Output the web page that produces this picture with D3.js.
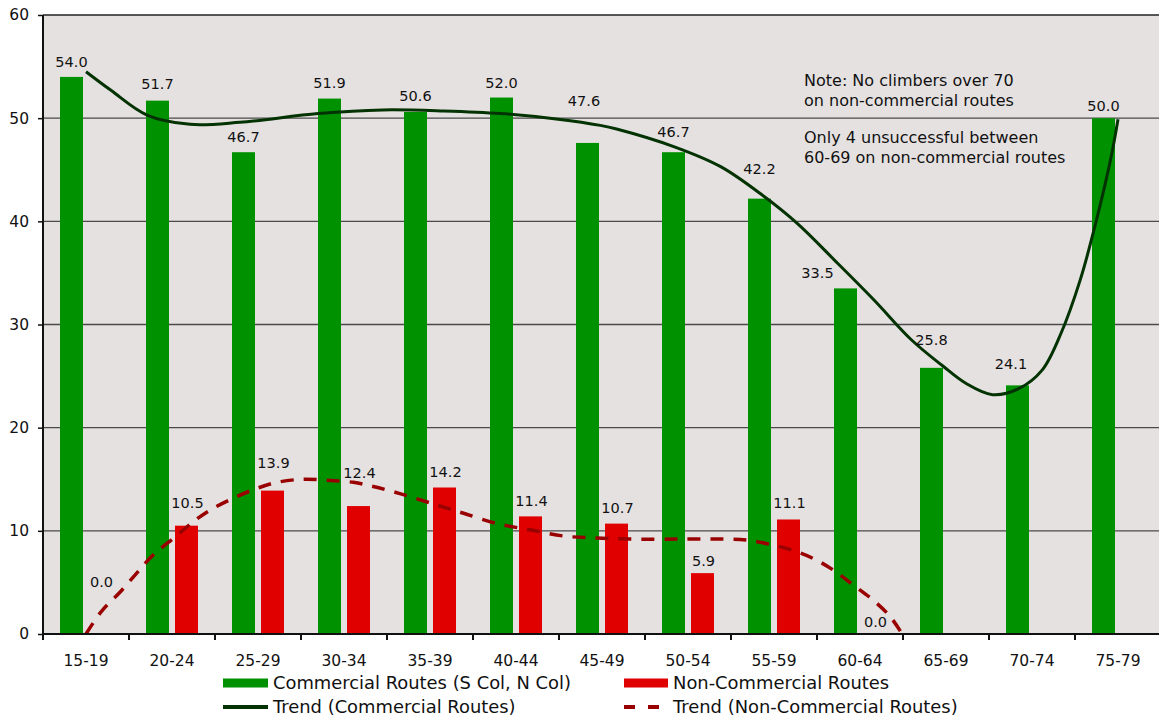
<!DOCTYPE html>
<html><head><meta charset="utf-8">
<script src="https://cdn.jsdelivr.net/npm/d3@7"></script>
<style>body{margin:0;background:#fff}svg{display:block}text{font-family:"DejaVu Sans",Verdana,sans-serif;fill:#111}</style>
</head><body>
<svg id="chart" width="1159" height="719"></svg>
<script>
// ---- data ----
const categories = ["15-19","20-24","25-29","30-34","35-39","40-44","45-49","50-54","55-59","60-64","65-69","70-74","75-79"];
const commercial = [54.0,51.7,46.7,51.9,50.6,52.0,47.6,46.7,42.2,33.5,25.8,24.1,50.0];
const nonCommercial = [0.0,10.5,13.9,12.4,14.2,11.4,10.7,5.9,11.1,0.0,null,null,null];
const yTicks = [0,10,20,30,40,50,60];
// trend curves: [category position, value]
const commercialTrend = [[0,54.5],[0.29,52.7],[0.71,50.3],[1.21,49.4],[1.79,49.6],[2.70,50.45],[3.45,50.8],[4.16,50.7],[4.82,50.45],[5.49,49.9],[5.98,49.3],[6.17,48.95],[6.85,47.2],[7.38,45.3],[7.87,42.5],[8.27,39.8],[8.72,36.1],[9.16,32.4],[9.60,28.5],[9.96,26.0],[10.23,24.3],[10.54,23.2],[10.85,23.8],[11.12,25.6],[11.34,29.2],[11.56,34.3],[11.74,39.8],[11.92,46.25],[12.0,49.9]];
const nonCommercialTrend = [[0,0],[0.18,2.2],[0.40,4.1],[0.59,5.9],[0.78,7.65],[1.05,9.5],[1.25,10.9],[1.44,12.0],[1.67,13.0],[1.95,14.0],[2.22,14.7],[2.53,15.0],[2.80,14.9],[3.11,14.7],[3.34,14.3],[3.57,13.8],[3.85,13.1],[4.12,12.4],[4.39,11.7],[4.78,10.7],[5.16,10.1],[5.55,9.5],[5.94,9.3],[6.33,9.2],[6.91,9.2],[7.41,9.2],[7.68,9.1],[7.95,8.7],[8.22,8.1],[8.46,7.3],[8.69,6.2],[8.92,4.75],[9.15,3.3],[9.35,1.7],[9.49,0]];
const noteLines = ["Note: No climbers over 70","on non-commercial routes","Only 4 unsuccessful between","60-69 on non-commercial routes"];
const legendLabels = ["Commercial Routes (S Col, N Col)","Non-Commercial Routes","Trend (Commercial Routes)","Trend (Non-Commercial Routes)"];

// ---- layout / style (not data) ----
const commercialLabelLift = [15,16.5,15,15.5,16,14.5,42,20,30,15,28,21,12];
const commercialLabelShift = [0,0,0,0,0,0,-3.5,0,0,-28,0,-6.5,0];
const nonCommercialLabelLift = [52,22.5,27.5,33,15.5,15.4,15.6,12,16,12];
const C = {bg:"#e6e1e1", green:"#009100", red:"#e00000", trendG:"#033303", trendR:"#990000", grid:"#4a4a4a"};
const M = {left:43, top:15, right:1161, bottom:634};

const svg = d3.select("#chart");
const x = d3.scaleBand().domain(categories).range([M.left, M.right]).padding(0);
const y = d3.scaleLinear().domain([0,60]).range([M.bottom, M.top]);
const inner = d3.scaleBand().domain(["c","n"]).range([0, x.bandwidth()]).paddingInner(0.2069).paddingOuter(0.586);
const xPos = d3.scaleLinear().domain([0,12]).range([x(categories[0]) + x.bandwidth()/2, x(categories[12]) + x.bandwidth()/2]);

svg.append("rect").attr("x",M.left).attr("y",M.top).attr("width",M.right-M.left).attr("height",M.bottom-M.top).attr("fill",C.bg);

// gridlines
svg.append("g").selectAll("line").data(yTicks.filter(v=>v>0&&v<60)).join("line")
  .attr("x1",M.left).attr("x2",M.right).attr("y1",d=>y(d)).attr("y2",d=>y(d))
  .attr("stroke",C.grid).attr("stroke-width",1.3);

// bars
svg.append("g").selectAll("rect").data(commercial).join("rect")
  .attr("x",(d,i)=>x(categories[i])+inner("c")).attr("width",inner.bandwidth())
  .attr("y",d=>y(d)).attr("height",d=>y(0)-y(d)).attr("fill",C.green);
svg.append("g").selectAll("rect").data(nonCommercial.map((v,i)=>({v,i})).filter(d=>d.v!==null)).join("rect")
  .attr("x",d=>x(categories[d.i])+inner("n")).attr("width",inner.bandwidth())
  .attr("y",d=>y(d.v)).attr("height",d=>y(0)-y(d.v)).attr("fill",C.red);

// plot border top
svg.append("line").attr("x1",M.left).attr("x2",M.right).attr("y1",M.top).attr("y2",M.top).attr("stroke","#222").attr("stroke-width",1.5);

// trends
svg.append("clipPath").attr("id","pc").append("rect").attr("x",M.left).attr("y",M.top-5).attr("width",M.right-M.left).attr("height",M.bottom-M.top+5);
const line = d3.line().x(d=>xPos(d[0])).y(d=>y(d[1])).curve(d3.curveCatmullRom.alpha(0.5));
svg.append("path").attr("d",line(commercialTrend)).attr("fill","none").attr("stroke",C.trendG).attr("stroke-width",3).attr("clip-path","url(#pc)");
svg.append("path").attr("d",line(nonCommercialTrend)).attr("fill","none").attr("stroke",C.trendR).attr("stroke-width",3.5).attr("stroke-dasharray","13,10").attr("clip-path","url(#pc)");

// axes
const yAxisG = svg.append("g").attr("transform",`translate(${M.left},0)`).call(d3.axisLeft(y).tickValues(yTicks).tickSize(5).tickPadding(9).tickFormat(d3.format("d")));
yAxisG.select(".domain").remove();
yAxisG.selectAll("line").attr("stroke","#111").attr("stroke-width",1.5);
yAxisG.selectAll("text").attr("font-size","15.5px").attr("fill","#111").attr("font-family","DejaVu Sans");
svg.append("line").attr("x1",M.left).attr("x2",M.left).attr("y1",M.top).attr("y2",M.bottom+6).attr("stroke","#111").attr("stroke-width",2);

const xAxisG = svg.append("g").attr("transform",`translate(0,${M.bottom})`).call(d3.axisBottom(x).tickSize(0).tickPadding(21));
xAxisG.select(".domain").remove();
xAxisG.selectAll("text").attr("font-size","15.5px").attr("fill","#111").attr("font-family","DejaVu Sans");
svg.append("g").selectAll("line").data(d3.range(categories.length+1)).join("line")
  .attr("x1",i=>M.left+i*x.step()).attr("x2",i=>M.left+i*x.step()).attr("y1",M.bottom).attr("y2",M.bottom+6)
  .attr("stroke","#111").attr("stroke-width",2);
svg.append("line").attr("x1",M.left-1).attr("x2",M.right).attr("y1",M.bottom).attr("y2",M.bottom).attr("stroke","#111").attr("stroke-width",2);

// data labels
svg.append("g").selectAll("text").data(commercial).join("text")
  .attr("x",(d,i)=>x(categories[i])+inner("c")+inner.bandwidth()/2+commercialLabelShift[i])
  .attr("y",(d,i)=>y(d)-commercialLabelLift[i]+5)
  .attr("text-anchor","middle").attr("font-size","14.5px").text(d=>d.toFixed(1));
svg.append("g").selectAll("text").data(nonCommercial.map((v,i)=>({v,i})).filter(d=>d.v!==null)).join("text")
  .attr("x",d=>x(categories[d.i])+inner("n")+inner.bandwidth()/2+1)
  .attr("y",d=>y(d.v)-nonCommercialLabelLift[d.i]+5)
  .attr("text-anchor","middle").attr("font-size","14.5px").text(d=>d.v.toFixed(1));

// note
const noteY = [86,105.5,143,162.5];
svg.append("g").selectAll("text").data(noteLines).join("text")
  .attr("x",804).attr("y",(d,i)=>noteY[i]).attr("font-size","16px").text(d=>d);

// legend
const lg = svg.append("g").attr("font-size","17.9px");
const lx = [223,624], ly = [683,707];
lg.append("rect").attr("x",lx[0]).attr("y",ly[0]-4.5).attr("width",45).attr("height",9).attr("fill",C.green);
lg.append("rect").attr("x",lx[1]).attr("y",ly[0]-4.5).attr("width",44).attr("height",9).attr("fill",C.red);
lg.append("line").attr("x1",lx[0]).attr("x2",lx[0]+45).attr("y1",ly[1]).attr("y2",ly[1]).attr("stroke",C.trendG).attr("stroke-width",4);
lg.append("line").attr("x1",lx[1]).attr("x2",lx[1]+37).attr("y1",ly[1]).attr("y2",ly[1]).attr("stroke",C.trendR).attr("stroke-width",4).attr("stroke-dasharray","11,13");
legendLabels.forEach((t,i)=>{
  lg.append("text").attr("x",i%2 ? 673 : 273).attr("y",ly[Math.floor(i/2)]+6).text(t);
});
</script>
</body></html>
